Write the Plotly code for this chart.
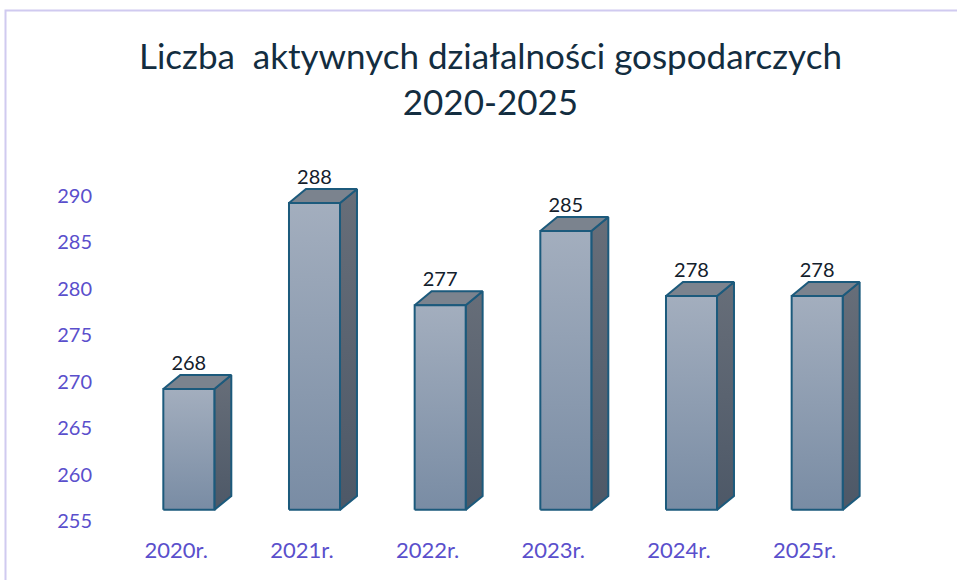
import plotly.graph_objects as go

categories = ["2020r.", "2021r.", "2022r.", "2023r.", "2024r.", "2025r."]
values = [268, 288, 277, 285, 278, 278]
y_ticks = [255, 260, 265, 270, 275, 280, 285, 290]

BASE = 255.0
HW = 0.203        # half width of front face (category units)
DX = 0.135        # depth offset x (category units)
DY = 1.5          # depth offset y (value units)
LINE = dict(color="#1c5a7c", width=2)
FONT = "Lato, 'Open Sans', sans-serif"

fig = go.Figure()

for i, v in enumerate(values):
    # side face
    fig.add_trace(go.Scatter(
        x=[i + HW, i + HW, i + HW + DX, i + HW + DX, i + HW],
        y=[BASE, v, v + DY, BASE + DY, BASE],
        mode="lines", fill="toself", line=LINE,
        fillgradient=dict(type="vertical",
                          colorscale=[[0, "#4d5867"], [1, "#676e79"]]),
        hoverinfo="skip", showlegend=False))
    # top face
    fig.add_trace(go.Scatter(
        x=[i - HW, i - HW + DX, i + HW + DX, i + HW, i - HW],
        y=[v, v + DY, v + DY, v, v],
        mode="lines", fill="toself", line=LINE, fillcolor="#7b838e",
        hoverinfo="skip", showlegend=False))
    # front face
    fig.add_trace(go.Scatter(
        x=[i - HW, i - HW, i + HW, i + HW, i - HW],
        y=[BASE, v, v, BASE, BASE],
        mode="lines", fill="toself", line=LINE,
        fillgradient=dict(type="vertical",
                          colorscale=[[0, "#798ca4"], [1, "#a3aebe"]]),
        hoverinfo="skip", showlegend=False))

# data labels
fig.add_trace(go.Scatter(
    x=list(range(len(values))),
    y=[v + 2.6 for v in values],
    mode="text",
    text=[str(v) for v in values],
    textposition="middle center",
    textfont=dict(family=FONT, size=20, color="#13202c"),
    hoverinfo="skip", showlegend=False))

fig.update_layout(
    width=957, height=580,
    margin=dict(l=126, r=77, t=150, b=40),
    paper_bgcolor="white", plot_bgcolor="white",
    xaxis=dict(
        range=[-0.5, 5.5],
        tickvals=[i - 0.1 for i in range(len(categories))],
        ticktext=categories,
        showgrid=False, zeroline=False, showline=False,
        ticks="", ticklabelstandoff=-5,
        tickfont=dict(family=FONT, size=22, color="#5a4fcc")),
    yaxis=dict(
        range=[251.76, 293.70],
        tickvals=[t - 1.2 for t in y_ticks],
        ticktext=[str(t) for t in y_ticks],
        showgrid=False, zeroline=False, showline=False,
        ticks="outside", ticklen=29, tickcolor="rgba(0,0,0,0)",
        tickfont=dict(family=FONT, size=20, color="#5a4fcc")),
    annotations=[dict(
        text="Liczba \u00a0aktywnych działalności gospodarczych<br>2020-2025",
        font=dict(family=FONT, size=35, color="#132d40"),
        xref="paper", yref="paper",
        x=(490 - 126) / 754, y=(540 - 78) / 390,
        xanchor="center", yanchor="middle", showarrow=False)],
    shapes=[dict(
        type="rect", xref="paper", yref="paper",
        x0=(5.5 - 126) / 754, x1=(962 - 126) / 754,
        y0=(540 - 590) / 390, y1=(540 - 10.5) / 390,
        line=dict(color="#d0caf0", width=2), fillcolor="rgba(0,0,0,0)",
        layer="below")],
)

fig.write_html("out.html", config={"displayModeBar": False},
               post_script="document.body.style.margin='0';")
